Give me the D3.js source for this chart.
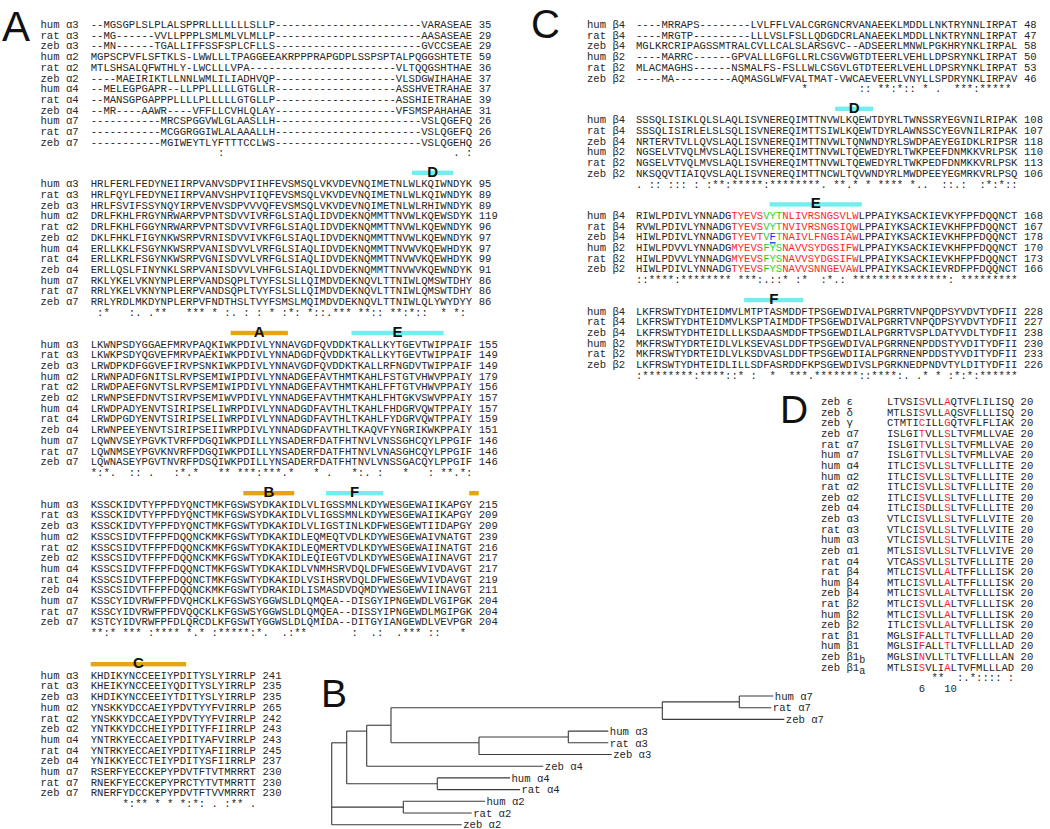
<!DOCTYPE html>
<html><head><meta charset="utf-8">
<script src="https://cdn.jsdelivr.net/npm/d3@7"></script>
<style>body{margin:0;background:#fff}</style>
</head><body>
<script>
// ---------------- DATA ----------------
// Panel A: alpha subunit alignment
const aNames=["hum α3","rat α3","zeb α3","hum α2","rat α2","zeb α2","hum α4","rat α4","zeb α4","hum α7","rat α7","zeb α7"];
const aSeq1=[
 "--MGSGPLSL"+"PLALSPPRLL"+"LLLLLSLLP-"+"----------"+"----------"+"--VARASEAE",
 "--MG------"+"VVLLPPPLSM"+"LMLVLMLLP-"+"----------"+"----------"+"--AASASEAE",
 "--MN------"+"TGALLIFFSS"+"FSPLCFLLS-"+"----------"+"----------"+"--GVCCSEAE",
 "MGPSCPVFLS"+"FTKLS-LWWL"+"LLTPAGGEEA"+"KRPPPRAPGD"+"PLSSPSPTAL"+"PQGGSHTETE",
 "MTLSHSALQF"+"WTHLY-LWCL"+"LLVPA-----"+"----------"+"--------VL"+"TQQGSHTHAE",
 "----MAEIRI"+"KTLLNNLWML"+"ILIADHVQP-"+"----------"+"--------VL"+"SDGWIHAHAE",
 "--MELEGPGA"+"PR--LLPPLL"+"LLLGTGLLR-"+"----------"+"--------AS"+"SHVETRAHAE",
 "--MANSGPGA"+"PPPLLLLPLL"+"LLLGTGLLP-"+"----------"+"--------AS"+"SHIETRAHAE",
 "--MR----AA"+"WR----VFFL"+"LCVHLQLAY-"+"----------"+"--------VF"+"SMSPAHAHAE",
 "----------"+"-MRCSPGGVW"+"LGLAASLLH-"+"----------"+"----------"+"--VSLQGEFQ",
 "----------"+"-MCGGRGGIW"+"LALAAALLH-"+"----------"+"----------"+"--VSLQGEFQ",
 "----------"+"-MGIWEYTLY"+"FTTTCCLWS-"+"----------"+"----------"+"--VSLQGEHQ"];
const aNum1=["35","29","29","59","36","37","37","39","31","26","26","26"];
const aCons1="          "+"          "+":         "+"          "+"          "+"       . :";
const aSeq2=[
 "HRLFERLFEDYNEIIRPVANVSDPVIIHFEVSMSQLVKVDEVNQIMETNLWLKQIWNDYK",
 "HRLFQYLFEDYNEIIRPVANVSHPVIIQFEVSMSQLVKVDEVNQIMETNLWLKQIWNDYK",
 "HRLFSVIFSSYNQYIRPVENVSDPVVVQFEVSMSQLVKVDEVNQIMETNLWLRHIWNDYK",
 "DRLFKHLFRGYNRWARPVPNTSDVVIVRFGLSIAQLIDVDEKNQMMTTNVWLKQEWSDYK",
 "DRLFKHLFGGYNRWARPVPNTSDVVIVRFGLSIAQLIDVDEKNQMMTTNVWLKQEWNDYK",
 "DKLFHKLFIGYNKWSRPVRNISDVVIVKFGLSIAQLIDVDEKNQMMTTNVWLKQEWNDYK",
 "ERLLKKLFSGYNKWSRPVANISDVVLVRFGLSIAQLIDVDEKNQMMTTNVWVKQEWHDYK",
 "ERLLKRLFSGYNKWSRPVGNISDVVLVRFGLSIAQLIDVDEKNQMMTTNVWVKQEWHDYK",
 "ERLLQSLFINYNKLSRPVANISDVVLVHFGLSIAQLIDVDEKNQMMTTNVWVKQEWNDYK",
 "RKLYKELVKNYNPLERPVANDSQPLTVYFSLSLLQIMDVDEKNQVLTTNIWLQMSWTDHY",
 "RRLYKELVKNYNPLERPVANDSQPLTVYFSLSLLQIMDVDEKNQVLTTNIWLQMSWTDHY",
 "RRLYRDLMKDYNPLERPVFNDTHSLTVYFSMSLMQIMDVDEKNQVLTTNIWLQLYWYDYY"];
const aNum2=["95","89","89","119","96","97","97","99","91","86","86","86"];
const aCons2=" :*   :. ."+"**   *** *"+" :. : : * "+":*: *::.**"+"* **:: **:"+"*::  * *: ";
const aSeq3=[
 "LKWNPSDYGGAEFMRVPAQKIWKPDIVLYNNAVGDFQVDDKTKALLKYTGEVTWIPPAIF",
 "LKWKPSDYQGVEFMRVPAEKIWKPDIVLYNNADGDFQVDDKTKALLKYTGEVTWIPPAIF",
 "LRWDPKDFGGVEFIRVPSNKIWKPDIVLYNNAVGDFQVDDKTKALLRFNGDVTWIPPAIF",
 "LRWNPADFGNITSLRVPSEMIWIPDIVLYNNADGEFAVTHMTKAHLFSTGTVHWVPPAIY",
 "LRWDPAEFGNVTSLRVPSEMIWIPDIVLYNNADGEFAVTHMTKAHLFFTGTVHWVPPAIY",
 "LRWNPSEFDNVTSIRVPSEMIWVPDIVLYNNADGEFAVTHMTKAHLFHTGKVSWVPPAIY",
 "LRWDPADYENVTSIRIPSELIWRPDIVLYNNADGDFAVTHLTKAHLFHDGRVQWTPPAIY",
 "LRWDPGDYENVTSIRIPSELIWRPDIVLYNNADGDFAVTHLTKAHLFYDGRVQWTPPAIY",
 "LRWNPEEYENVTSIRIPSEIIWRPDIVLYNNADGDFAVTHLTKAQVFYNGRIKWKPPAIY",
 "LQWNVSEYPGVKTVRFPDGQIWKPDILLYNSADERFDATFHTNVLVNSSGHCQYLPPGIF",
 "LQWNMSEYPGVKNVRFPDGQIWKPDILLYNSADERFDATFHTNVLVNASGHCQYLPPGIF",
 "LQWNASEYPGVTNVRFPDSQIWKPDILLYNSADERFDATFHTNVLVNSSGACQYLPPGIF"];
const aNum3=["155","149","149","179","156","157","157","159","151","146","146","146"];
const aCons3="*:*.  :: ."+"   :*.*   "+"** ***:***"+".*   * .  "+" *:. :   *"+"   : **.*:";
const aSeq4=[
 "KSSCKIDVTYFPFDYQNCTMKFGSWSYDKAKIDLVLIGSSMNLKDYWESGEWAIIKAPGY",
 "KSSCKIDVTYFPFDYQNCTMKFGSWSYDKAKIDLVLIGSSMNLKDYWESGEWAIIKAPGY",
 "KSSCKIDVTYFPFDYQNCTMKFGSWTYDKAKIDLVLIGSTINLKDFWESGEWTIIDAPGY",
 "KSSCSIDVTFFPFDQQNCKMKFGSWTYDKAKIDLEQMEQTVDLKDYWESGEWAIVNATGT",
 "KSSCSIDVTFFPFDQQNCKMKFGSWTYDKAKIDLEQMERTVDLKDYWESGEWAIINATGT",
 "KSSCSIDVTFFPFDQQNCKMKFGSWTYDKAKIDLEQIEGTVDLKDYWESGEWAIINAVGT",
 "KSSCSIDVTFFPFDQQNCTMKFGSWTYDKAKIDLVNMHSRVDQLDFWESGEWVIVDAVGT",
 "KSSCSIDVTFFPFDQQNCTMKFGSWTYDKAKIDLVSIHSRVDQLDFWESGEWVIVDAVGT",
 "KSSCSIDVTFFPFDQQNCKMKFGSWTYDRAKIDLISMASDVDQMDYWESGEWVIINAVGT",
 "KSSCYIDVRWFPFDVQHCKLKFGSWSYGGWSLDLQMQEA--DISGYIPNGEWDLVGIPGK",
 "KSSCYIDVRWFPFDVQQCKLKFGSWSYGGWSLDLQMQEA--DISSYIPNGEWDLMGIPGK",
 "KSTCYIDVRWFPFDLQRCDLKFGSWTYGGWSLDLQMIDA--DITGYIANGEWDLVEVPGR"];
const aNum4=["215","209","209","239","216","217","217","219","211","204","204","204"];
const aCons4="**:* *** :"+"**** *.* :"+"*****:*.  "+".:**      "+" :  .:  .*"+"** ::   * ";
const aSeq5=[
 "KHDIKYNCCEEIYPDITYSLYIRRLP","KHEIKYNCCEEIYQDITYSLYIRRLP","KHDIKYNCCEEIYTDITYSLYIRRLP",
 "YNSKKYDCCAEIYPDVTYYFVIRRLP","YNSKKYDCCAEIYPDVTYYFVIRRLP","YNTKKYDCCHEIYPDITYFFIIRRLP",
 "YNTRKYECCAEIYPDITYAFVIRRLP","YNTRKYECCAEIYPDITYAFIIRRLP","YNIKKYECCTEIYPDITYSFIIRRLP",
 "RSERFYECCKEPYPDVTFTVTMRRRT","RNEKFYECCKEPYPRCTYTVTMRRTT","RNERFYDCCKEPYPDVTFTVVMRRRT"];
const aNum5=["241","235","235","265","242","243","243","245","237","230","230","230"];
const aCons5="     *:** "+"* * *:*: ."+" :** .";
// loop bars: block index, first column, last column, label, kind
const aBars=[
 {blk:1,from:50.5,to:57,label:"D",kind:"cyan"},
 {blk:2,from:22,to:31,label:"A",kind:"gold"},
 {blk:2,from:41,to:55.5,label:"E",kind:"cyan"},
 {blk:3,from:24,to:32,label:"B",kind:"gold"},
 {blk:3,from:37,to:46,label:"F",kind:"cyan"},
 {blk:3,from:59.5,to:61,label:"",kind:"gold"},
 {blk:4,from:0,to:15,label:"C",kind:"gold"}];

// Panel C: beta subunit alignment
const cNames=["hum β4","rat β4","zeb β4","hum β2","rat β2","zeb β2"];
const cSeq1=[
 "----MRRAPS"+"--------LV"+"LFFLVALCGR"+"GNCRVANAEE"+"KLMDDLLNKT"+"RYNNLIRPAT",
 "----MRGTP-"+"--------LL"+"LVSLFSLLQD"+"GDCRLANAEE"+"KLMDDLLNKT"+"RYNNLIRPAT",
 "MGLKRCRIPA"+"GSSMTRALCV"+"LLCALSLARS"+"GVC--ADSEE"+"RLMNWLPGKH"+"RYNKLIRPAL",
 "----MARRC-"+"-----GPVAL"+"LLGFGLLRLC"+"SGVWGTDTEE"+"RLVEHLLDPS"+"RYNKLIRPAT",
 "MLACMAGHS-"+"-----NSMAL"+"FS-FSLLWLC"+"SGVLGTDTEE"+"RLVEHLLDPS"+"RYNKLIRPAT",
 "----MA----"+"-----AQMAS"+"GLWFVALTMA"+"T-VWCAEVEE"+"RLVNYLLSPD"+"RYNKLIRPAV"];
const cNum1=["48","47","58","50","53","46"];
const cCons1="          "+"          "+"      *   "+"     :: **"+":*:: * .  "+"***:***** ";
const cSeq2=[
 "SSSQLISIKLQLSLAQLISVNEREQIMTTNVWLKQEWTDYRLTWNSSRYEGVNILRIPAK",
 "SSSQLISIRLELSLSQLISVNEREQIMTTSIWLKQEWTDYRLAWNSSCYEGVNILRIPAK",
 "NRTERVTVLLQVSLAQLISVNEREQIMTTNVWLTQNWNDYRLSWDPAEYEGIDKLRIPSR",
 "NGSELVTVQLMVSLAQLISVHEREQIMTTNVWLTQEWEDYRLTWKPEEFDNMKKVRLPSK",
 "NGSELVTVQLMVSLAQLISVHEREQIMTTNVWLTQEWEDYRLTWKPEDFDNMKKVRLPSK",
 "NKSQQVTIAIQVSLAQLISVNEREQIMTTNCWLTQVWNDYRLMWDPEEYEGMRKVRLPSQ"];
const cNum2=["108","107","118","110","113","106"];
const cCons2=". :: ::: :"+" :**:*****"+":********."+" **.* * **"+"** *..  ::"+".:  :*:*::";
const cSeq3=[
 "RIWLPDIVLYNNADGTYEVSVYTNLIVRSNGSVLWLPPAIYKSACKIEVKYFPFDQQNCT",
 "RVWLPDIVLYNNADGTYEVSVYTNVIVRSNGSIQWLPPAIYKSACKIEVKHFPFDQQNCT",
 "HIWLPDIVLYNNADGTYEVTVFTNAIVLFNGSIAWLPPAIYKSACKIEVKHFPFDQQNCT",
 "HIWLPDVVLYNNADGMYEVSFYSNAVVSYDGSIFWLPPAIYKSACKIEVKHFPFDQQNCT",
 "HIWLPDVVLYNNADGMYEVSFYSNAVVSYDGSIFWLPPAIYKSACKIEVKHFPFDQQNCT",
 "HIWLPDIVLYNNADGTYEVSFYSNAVVSNNGEVAWLPPAIYKSACKIEVRDFPFDQQNCT"];
const cNum3=["168","167","178","170","173","166"];
const cCons3="::****:***"+"***** ***:"+".::* :*  :"+"*.: ******"+"*********:"+" *********";
const cSeq4=[
 "LKFRSWTYDHTEIDMVLMTPTASMDDFTPSGEWDIVALPGRRTVNPQDPSYVDVTYDFII",
 "LKFRSWTYDHTEIDMVLKSPTAIMDDFTPSGEWDIVALPGRRTVNPQDPSYVDVTYDFII",
 "LKFRSWTYDHTEIDLLLKSDAASMDDFTPSGEWDILALPGRRTVSPLDATYVDLTYDFII",
 "MKFRSWTYDRTEIDLVLKSEVASLDDFTPSGEWDIVALPGRRNENPDDSTYVDITYDFII",
 "MKFRSWTYDRTEIDLVLKSDVASLDDFTPSGEWDIIALPGRRNENPDDSTYVDITYDFII",
 "LKFRSWTYDHTEIDLILLSDFASRDDFKPSGEWDIVSLPGRKNEDPNDVTYLDITYDFII"];
const cNum4=["228","227","238","230","233","226"];
const cCons4=":********:"+"****::* : "+" *  ***.**"+"*****::***"+"*:. .* * :"+"*:*:******";
const cBars=[
 {blk:1,from:31.3,to:37.3,label:"D",kind:"cyan"},
 {blk:2,from:21,to:35.5,label:"E",kind:"cyan"},
 {blk:3,from:17,to:26.3,label:"F",kind:"cyan"}];
// highlighted residues in block E of panel C
const eRedSpan=[15,34];
const eGreenCols=[20,21,22];
const eBlue={row:2,col:21};

// Panel D: M2 segment
const dNames=["zeb ε","zeb δ","zeb γ","zeb α7","rat α7","hum α7","hum α4","hum α2","rat α2","zeb α2","zeb α4","zeb α3","rat α3","hum α3","zeb α1","rat α4","rat β4","hum β4","zeb β4","rat β2","hum β2","zeb β2","rat β1","hum β1","zeb β1","zeb β1"];
const dSubs=["","","","","","","","","","","","","","","","","","","","","","","","","b","a"];
const dSeq=[
 "LTVSISVLLAQTVFLILISQ","MTLSISVLLAQSVFLLLISQ","CTMTICILLGQTVFLFLIAK",
 "ISLGITVLLSLTVFMLLVAE","ISLGITVLLSLTVFMLLVAE","ISLGITVLLSLTVFMLLVAE",
 "ITLCISVLLSLTVFLLLITE","ITLCISVLLSLTVFLLLITE","ITLCISVLLSLTVFLLLITE","ITLCISVLLSLTVFLLLITE",
 "ITLCISDLLSLTVFLLLITE","VTLCISVLLSLTVFLLVITE","VTLCISVLLSLTVFLLVITE","VTLCISVLLSLTVFLLVITE",
 "MTLSISVLLSLTVFLLVIVE","VTCASSVLLSLTVFLLLITE",
 "MTLCISVLLALTFFLLLISK","MTLCISVLLALTFFLLLISK","MTLCISVLLALTVFLLLISK",
 "MTLCISVLLALTVFLLLISK","MTLCISVLLALTVFLLLISK","ITLCISVLLALTVFLLLISK",
 "MGLSIFALLTLTVFLLLLAD","MGLSIFALLTLTVFLLLLAD","MGLSINVLLTLTVFLLLLAN","MTLSISVLIALTVFMLLLAD"];
const dNum="20";
const dRedCols=[5,9];
const dCons="       ** "+" :.*:::: :";
const dPos="     6   10";

// Panel B: tree (branch lengths)
const treeData={len:0,children:[
 {len:0.0150,children:[
  {len:0.0200,children:[
   {len:0.0243,children:[
    {len:0.2713,children:[
     {len:0.0770,children:[{name:"hum α7",len:0.0340},{name:"rat α7",len:0.0320}]},
     {name:"zeb α7",len:0.1220}]},
    {len:0.0880,children:[
     {len:0.0893,children:[{name:"hum α3",len:0.0400},{name:"rat α3",len:0.0400}]},
     {name:"zeb α3",len:0.1327}]}]},
   {name:"zeb α4",len:0.1766}]},
  {len:0.0906,children:[{name:"hum α4",len:0.0727},{name:"rat α4",len:0.0827}]}]},
 {len:0.0716,children:[{name:"hum α2",len:0.0817},{name:"rat α2",len:0.0684}]},
 {name:"zeb α2",len:0.1300}]};

// ---------------- DRAWING ----------------
const W=1050,H=829;
const svg=d3.select("body").append("svg").attr("width",W).attr("height",H);
svg.append("rect").attr("width",W).attr("height",H).attr("fill","#fff");
const MONO="'Liberation Mono','Courier New',monospace";
const SANS="'Liberation Sans',Arial,Helvetica,sans-serif";
const FS=10.6, CW=FS*0.60009, ROW=10.7;
const INK="#262626";
const GOLD="#e3a514", CYAN="#72eeee";
const RED="#ff1f1f", GREEN="#1fd21f", BLUE="#2424ff";

function drawBlock(g,o){
  const col=d3.scaleLinear().domain([0,1]).range([o.sx,o.sx+CW]);
  const yr=d3.scaleLinear().domain([0,1]).range([o.y0,o.y0+(o.row||ROW)]);
  o.seqs.forEach((s,i)=>{
    const y=yr(i)+3.7;
    const lab=g.append("text").attr("x",o.lx).attr("y",y).attr("font-family",MONO)
      .attr("font-size",FS).attr("fill",INK).text(o.names[i]);
    if(o.subs && o.subs[i]) lab.append("tspan").attr("dy",3).attr("font-size",FS*0.95).text(o.subs[i]);
    const t=g.append("text").attr("x",col(0)).attr("y",y).attr("font-family",MONO)
      .attr("font-size",FS).attr("fill",INK);
    if(o.color){
      let runs=[];
      for(let j=0;j<s.length;j++){
        const c=o.color(i,j)||INK;
        if(runs.length&&runs[runs.length-1].c===c) runs[runs.length-1].t+=s[j];
        else runs.push({c:c,t:s[j]});
      }
      runs.forEach(r=>t.append("tspan").attr("fill",r.c).text(r.t));
    } else t.text(s);
    g.append("text").attr("x",col(s.length+1)).attr("y",y).attr("font-family",MONO)
      .attr("font-size",FS).attr("fill",INK).text(typeof o.nums==="string"?o.nums:o.nums[i]);
  });
  const extra=[o.cons].concat(o.extraRows||[]);
  extra.forEach((line,k)=>{
    const y=yr(o.seqs.length+k)+3.7;
    line.split("").forEach((ch,j)=>{
      if(ch===" ")return;
      g.append("text").attr("x",col(j)).attr("y",y).attr("font-family",MONO)
        .attr("font-size",FS).attr("fill",INK).text(ch);
    });
  });
  return {col,yr};
}

function drawBars(g,bars,tops,sx){
  const col=d3.scaleLinear().domain([0,1]).range([sx,sx+CW]);
  bars.forEach(b=>{
    const by=tops[b.blk]-10.8;
    g.append("rect").attr("x",col(b.from)).attr("y",by-2.2).attr("width",col(b.to)-col(b.from))
      .attr("height",4.4).attr("fill",b.kind==="gold"?GOLD:CYAN);
    if(b.label) g.append("text").attr("x",(col(b.from)+col(b.to))/2).attr("y",by+4.0)
      .attr("text-anchor","middle").attr("font-family",SANS).attr("font-weight","bold")
      .attr("font-size",15).attr("fill","#111").text(b.label);
  });
}

// Panel A
const gA=svg.append("g");
const aTops=[24.3,183.6,343.8,504.0,675.0];
const aSeqs=[aSeq1,aSeq2,aSeq3,aSeq4,aSeq5], aNums=[aNum1,aNum2,aNum3,aNum4,aNum5], aCons=[aCons1,aCons2,aCons3,aCons4,aCons5];
aSeqs.forEach((s,k)=>drawBlock(gA,{names:aNames,seqs:s,nums:aNums[k],cons:aCons[k],lx:40.5,sx:90.7,y0:aTops[k]}));
drawBars(gA,aBars,aTops,90.7);

// Panel C
const gC=svg.append("g");
const cTops=[24.3,119.6,215.2,310.9];
const cSeqs=[cSeq1,cSeq2,cSeq3,cSeq4], cNums=[cNum1,cNum2,cNum3,cNum4], cCons=[cCons1,cCons2,cCons3,cCons4];
const CSX=636;
cSeqs.forEach((s,k)=>{
  const opt={names:cNames,seqs:s,nums:cNums[k],cons:cCons[k],lx:587,sx:CSX,y0:cTops[k]};
  if(k===2){
    opt.color=(r,c)=>{
      if(r===eBlue.row&&c===eBlue.col) return BLUE;
      if(eGreenCols.includes(c)) return GREEN;
      if(c>=eRedSpan[0]&&c<=eRedSpan[1]) return RED;
      return null;
    };
  }
  const sc=drawBlock(gC,opt);
  if(k===2){
    gC.append("line").attr("x1",sc.col(eBlue.col)+0.3).attr("x2",sc.col(eBlue.col+1)-0.3)
      .attr("y1",sc.yr(eBlue.row)+6.2).attr("y2",sc.yr(eBlue.row)+6.2)
      .attr("stroke",BLUE).attr("stroke-width",1.3);
  }
});
drawBars(gC,cBars,cTops,CSX);

// Panel D
const gD=svg.append("g");
drawBlock(gD,{names:dNames,subs:dSubs,seqs:dSeq,nums:dNum,cons:dCons,extraRows:[dPos],
  lx:821,sx:887,y0:401.5,row:10.62,
  color:(r,c)=>dRedCols.includes(c)?RED:null});

// Panel B: tree
const gB=svg.append("g");
const root=d3.hierarchy(treeData);
root.eachBefore(d=>{d.dist=(d.parent?d.parent.dist:0)+d.data.len;});
const leaves=root.leaves();
const xT=d3.scaleLinear().domain([0,d3.max(leaves,d=>d.dist)]).range([331.7,784.3]);
const yT=d3.scalePoint().domain(leaves.map(d=>d.data.name)).range([696,824.7]);
root.eachAfter(d=>{d.ty=d.children?d3.mean(d.leaves(),l=>yT(l.data.name)):yT(d.data.name);});
root.descendants().forEach(d=>{
  if(d.parent){
    gB.append("line").attr("x1",xT(d.parent.dist)).attr("x2",xT(d.dist))
      .attr("y1",d.ty).attr("y2",d.ty).attr("stroke","#3a3a3a").attr("stroke-width",1.1);
  }
  if(d.children){
    const ys=d.children.map(c=>c.ty);
    gB.append("line").attr("x1",xT(d.dist)).attr("x2",xT(d.dist))
      .attr("y1",d3.min(ys)).attr("y2",d3.max(ys)).attr("stroke","#3a3a3a").attr("stroke-width",1.1);
  } else {
    gB.append("text").attr("x",xT(d.dist)+1.5).attr("y",d.ty+3.7).attr("font-family",MONO)
      .attr("font-size",FS).attr("fill",INK).text(d.data.name);
  }
});

// Panel letters
const letters=[{t:"A",x:2,y:41,s:42},{t:"C",x:531,y:38,s:40},{t:"B",x:321,y:707,s:39},{t:"D",x:780,y:423,s:39}];
svg.selectAll("text.pl").data(letters).enter().append("text").attr("class","pl")
  .attr("x",d=>d.x).attr("y",d=>d.y).attr("font-family",SANS).attr("font-size",d=>d.s)
  .attr("fill","#111").text(d=>d.t);
</script>
</body></html>
